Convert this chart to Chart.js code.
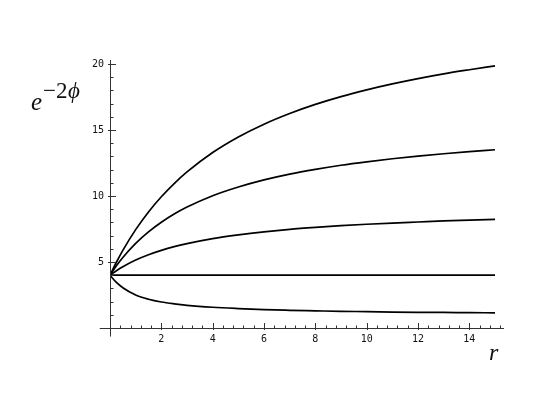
<!DOCTYPE html>
<html>
<head>
<meta charset="utf-8">
<script src="https://cdn.jsdelivr.net/npm/chart.js@4.4.0/dist/chart.umd.min.js"></script>
<style>
  html, body { margin: 0; padding: 0; background: #fff; }
  #wrap { width: 554px; height: 416px; }
</style>
</head>
<body>
<div id="wrap"><canvas id="c" width="554" height="416"></canvas></div>
<script>
const rVals = [0, 0.25, 0.5, 1, 1.5, 2, 2.5, 3, 4, 5, 6, 7, 8, 9, 10, 11, 12, 13, 14, 15];

// e^{-2phi} for the five curves (top to bottom)
const curveA = [4, 4.98, 5.88, 7.45, 8.79, 9.94, 10.94, 11.82, 13.29, 14.47, 15.44, 16.25, 16.94, 17.53, 18.04, 18.49, 18.89, 19.25, 19.56, 19.85];
const curveB = [4, 4.71, 5.34, 6.41, 7.28, 8.01, 8.63, 9.16, 10.02, 10.68, 11.22, 11.66, 12.02, 12.33, 12.59, 12.82, 13.02, 13.2, 13.36, 13.5];
const curveC = [4, 4.34, 4.64, 5.15, 5.55, 5.88, 6.16, 6.39, 6.77, 7.05, 7.28, 7.47, 7.62, 7.75, 7.86, 7.95, 8.03, 8.11, 8.17, 8.23];
const curveD = [4, 4, 4, 4, 4, 4, 4, 4, 4, 4, 4, 4, 4, 4, 4, 4, 4, 4, 4, 4];
const curveE = [4, 3.45, 3.05, 2.5, 2.18, 1.97, 1.83, 1.72, 1.57, 1.47, 1.39, 1.34, 1.30, 1.26, 1.24, 1.21, 1.19, 1.18, 1.16, 1.15];

// tick labels
const xTickLabels = [2, 4, 6, 8, 10, 12, 14];
const yTickLabels = [5, 10, 15, 20];

const toPts = ys => rVals.map((r, i) => ({ x: r, y: ys[i] }));

const lineStyle = {
  borderColor: '#000',
  borderWidth: 1.7,
  pointRadius: 0,
  fill: false,
  cubicInterpolationMode: 'monotone',
};

const data = {
  datasets: [curveA, curveB, curveC, curveD, curveE].map(ys => ({ ...lineStyle, data: toPts(ys) })),
};

// Mathematica-style axes: crossing lines, inward ticks
const mathAxes = {
  id: 'mathAxes',
  afterDraw(chart) {
    const ctx = chart.ctx;
    const xs = chart.scales.x, ys = chart.scales.y;
    const x0 = xs.getPixelForValue(0), y0 = ys.getPixelForValue(0);
    ctx.save();
    ctx.strokeStyle = '#333';
    ctx.lineWidth = 1;
    ctx.beginPath();
    ctx.moveTo(xs.getPixelForValue(-0.4), y0 + 0.5);
    ctx.lineTo(xs.getPixelForValue(15.35), y0 + 0.5);
    ctx.moveTo(x0 + 0.5, ys.getPixelForValue(-0.65));
    ctx.lineTo(x0 + 0.5, ys.getPixelForValue(20.3));
    // x ticks
    for (let k = 1; k * 0.4 <= 15.3; k++) {
      const v = k * 0.4;
      const px = Math.round(xs.getPixelForValue(v)) + 0.5;
      const major = k % 5 === 0;
      ctx.moveTo(px, y0 - (major ? 5 : 2.5));
      ctx.lineTo(px, y0 + (major ? 2 : 1));
    }
    // y ticks
    for (let v = 1; v <= 20; v++) {
      const py = Math.round(ys.getPixelForValue(v)) + 0.5;
      const major = v % 5 === 0;
      ctx.moveTo(x0 - (major ? 2 : 0), py);
      ctx.lineTo(x0 + (major ? 6 : 3.5), py);
    }
    ctx.stroke();

    // axis labels
    ctx.fillStyle = '#111';
    ctx.textBaseline = 'alphabetic';
    ctx.font = 'italic 25px "Liberation Serif"';
    ctx.fillText('e', 31, 110);
    ctx.font = '23px "Liberation Serif"';
    ctx.fillText('\u22122', 43, 98);
    ctx.font = 'italic 23px "Liberation Serif"';
    ctx.fillText('\u03d5', 68, 98);
    ctx.font = 'italic 24px "Liberation Serif"';
    ctx.fillText('r', 489, 360);
    ctx.restore();
  },
};

const tickFont = { family: '"DejaVu Sans Mono"', size: 10 };

const config = {
  type: 'line',
  data,
  options: {
    responsive: false,
    animation: false,
    layout: { padding: { left: 0, right: 50, top: 60, bottom: 67 } },
    plugins: { legend: { display: false }, tooltip: { enabled: false } },
    scales: {
      x: {
        type: 'linear',
        min: 0,
        max: 15.35,
        grid: { display: false, drawTicks: false },
        border: { display: false },
        afterBuildTicks: s => { s.ticks = xTickLabels.map(v => ({ value: v })); },
        afterFit: s => { s.height = 21; },
        ticks: { color: '#111', font: tickFont, padding: 5, maxRotation: 0 },
      },
      y: {
        type: 'linear',
        min: 0,
        max: 20.3,
        grid: { display: false, drawTicks: false },
        border: { display: false },
        afterBuildTicks: s => { s.ticks = yTickLabels.map(v => ({ value: v })); },
        afterFit: s => { s.width = 110; },
        ticks: { color: '#111', font: tickFont, padding: 6 },
      },
    },
  },
  plugins: [mathAxes],
};

new Chart(document.getElementById('c'), config);
</script>
</body>
</html>
